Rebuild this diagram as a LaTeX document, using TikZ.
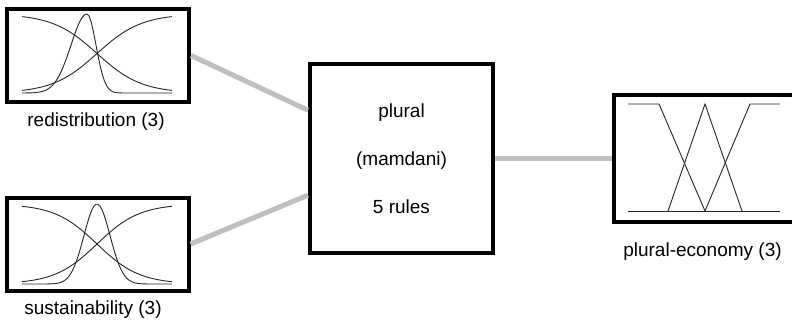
\documentclass[tikz,border=0pt]{standalone}
\usepackage{fontspec}
\setmainfont{Liberation Sans}
\usetikzlibrary{calc}
\begin{document}
\begin{tikzpicture}[x=1pt,y=-1pt,
  mfbox/.style={draw=black, line width=4pt, minimum width=182pt, minimum height=93pt, inner sep=0pt},
  rulebox/.style={draw=black, line width=4pt, minimum width=183pt, minimum height=189pt, align=center, font=\fontsize{19}{48}\selectfont},
  lbl/.style={font=\fontsize{19}{23}\selectfont, inner sep=0pt},
  conn/.style={draw=black!25, line width=5pt},
  mf/.style={line width=0.9pt, draw=black!85}]
\useasboundingbox (0,0) rectangle (792,327);
\clip (0,0) rectangle (792,327);
\node[mfbox] (red) at (98,55.5) {};
\node[mfbox] (sus) at (97.5,244) {};
\node[rulebox] (plu) at (401.5,158.5) {plural\\(mamdani)\\5 rules};
\node[mfbox, minimum height=127pt] (out) at (705,158.5) {};
\node[lbl] (redl) at (96,122) {redistribution (3)};
\node[lbl] (susl) at (93,310) {sustainability (3)};
\node[lbl] (outl) at (702.5,252) {plural-economy (3)};
% input 1 curves
\draw[mf] plot[domain=22:172,samples=60] (\x,{93-79/(1+exp(0.045*(\x-97)))});
\draw[mf] plot[domain=22:172,samples=60] (\x,{93-79/(1+exp(-0.045*(\x-97)))});
\draw[mf] plot[domain=22:87,samples=40] (\x,{93-79*exp(0-(\x-87)*(\x-87)/512)});
\draw[mf] plot[domain=87:172,samples=40] (\x,{93-79*exp(0-(\x-87)*(\x-87)/162)});
% input 2 curves
\draw[mf] plot[domain=22:172,samples=60] (\x,{284-80/(1+exp(0.047*(\x-97)))});
\draw[mf] plot[domain=22:172,samples=60] (\x,{284-80/(1+exp(-0.047*(\x-97)))});
\draw[mf] plot[domain=22:172,samples=80] (\x,{284-80*exp(0-(\x-97)*(\x-97)/338)});
% output curves
\draw[mf] (628,211) -- (780,211);
\draw[mf] (628,104) -- (659,104) -- (705,211);
\draw[mf] (668,211) -- (705,104) -- (742,211);
\draw[mf] (705,211) -- (750,104) -- (780,104);
% connectors
\draw[conn] (red.east) -- ($(plu.north west)!0.25!(plu.south west)$);
\draw[conn] (sus.east) -- ($(plu.north west)!0.69!(plu.south west)$);
\draw[conn] (plu.east) -- (out.west);
\end{tikzpicture}
\end{document}
